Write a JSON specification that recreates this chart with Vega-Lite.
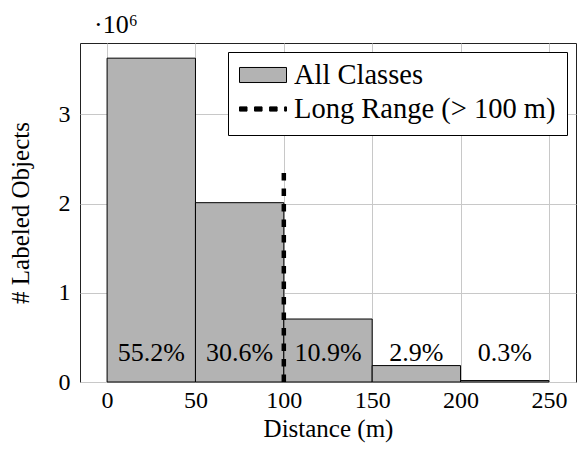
{
  "$schema": "https://vega.github.io/schema/vega-lite/v6.json",
  "width": 496,
  "height": 339,
  "autosize": "none",
  "padding": {"left": 80, "top": 43, "right": 3, "bottom": 69},
  "config": {
    "font": "Liberation Serif",
    "view": {"stroke": "#222222", "strokeWidth": 1},
    "axis": {
      "labelFont": "Liberation Serif",
      "titleFont": "Liberation Serif",
      "labelFontSize": 24,
      "titleFontSize": 25,
      "titleFontWeight": "normal",
      "labelColor": "black",
      "titleColor": "black",
      "domain": false,
      "ticks": false,
      "grid": true,
      "gridColor": "#c8c8c8",
      "gridWidth": 1
    },
    "legend": {
      "orient": "top-right",
      "offset": 9,
      "strokeColor": "black",
      "fillColor": "white",
      "padding": 11,
      "labelFont": "Liberation Serif",
      "labelFontSize": 28.5,
      "labelColor": "black",
      "labelOffset": 7,
      "labelLimit": 400,
      "symbolSize": 2209,
      "symbolOpacity": 1,
      "symbolStrokeColor": "black",
      "symbolStrokeWidth": 1,
      "clipHeight": 24,
      "rowPadding": 5
    }
  },
  "layer": [
    {
      "data": {
        "values": [
          {"start": 0, "end": 50, "count": 3630000},
          {"start": 50, "end": 100, "count": 2010000},
          {"start": 100, "end": 150, "count": 706000},
          {"start": 150, "end": 200, "count": 184000},
          {"start": 200, "end": 250, "count": 16000}
        ]
      },
      "mark": {"type": "bar", "fill": "#b3b3b3", "stroke": "black", "strokeWidth": 1, "opacity": 1, "orient": "vertical"},
      "encoding": {
        "x": {
          "field": "start",
          "type": "quantitative",
          "scale": {"domain": [-12.5, 262.5], "nice": false, "zero": false},
          "axis": {"values": [0, 50, 100, 150, 200, 250], "title": "Distance (m)", "labelPadding": 6, "titlePadding": 4}
        },
        "x2": {"field": "end"},
        "y": {
          "field": "count",
          "type": "quantitative",
          "scale": {"domain": [0, 3800000], "nice": false},
          "axis": {"values": [0, 1000000, 2000000, 3000000], "labelExpr": "datum.value / 1000000", "title": "# Labeled Objects", "labelPadding": 10, "titlePadding": 25}
        },
        "y2": {"datum": 0}
      }
    },
    {
      "data": {"values": [{"dist": 100, "low": 0, "high": 2400000}]},
      "mark": {"type": "rule", "stroke": "black", "strokeWidth": 4.5, "strokeDash": [7.5, 8]},
      "encoding": {
        "x": {"field": "dist", "type": "quantitative"},
        "y": {"field": "low", "type": "quantitative"},
        "y2": {"field": "high"}
      }
    },
    {
      "data": {
        "values": [
          {"start": 0, "end": 50, "pct": "55.2%"},
          {"start": 50, "end": 100, "pct": "30.6%"},
          {"start": 100, "end": 150, "pct": "10.9%"},
          {"start": 150, "end": 200, "pct": "2.9%"},
          {"start": 200, "end": 250, "pct": "0.3%"}
        ]
      },
      "transform": [{"calculate": "(datum.start + datum.end) / 2", "as": "mid"}],
      "mark": {"type": "text", "fontSize": 26, "font": "Liberation Serif", "color": "black", "baseline": "middle", "align": "center"},
      "encoding": {
        "x": {"field": "mid", "type": "quantitative"},
        "y": {"datum": 330000},
        "text": {"field": "pct"}
      }
    },
    {
      "data": {"values": [{"note": "·10⁶"}]},
      "mark": {"type": "text", "fontSize": 26, "font": "Liberation Serif", "color": "black", "baseline": "alphabetic", "align": "left", "dx": 9, "dy": -10},
      "encoding": {
        "x": {"datum": -12.5},
        "y": {"datum": 3800000},
        "text": {"field": "note"}
      }
    },
    {
      "data": {"values": [{"series": "All Classes"}, {"series": "Long Range (> 100 m)"}]},
      "mark": {"type": "point", "filled": true, "opacity": 0, "strokeWidth": 1},
      "encoding": {
        "color": {
          "field": "series",
          "type": "nominal",
          "scale": {"domain": ["All Classes", "Long Range (> 100 m)"], "range": ["#b3b3b3", "black"]},
          "legend": {"title": null}
        },
        "stroke": {
          "field": "series",
          "type": "nominal",
          "scale": {"domain": ["All Classes", "Long Range (> 100 m)"], "range": ["black", "black"]},
          "legend": {"title": null}
        },
        "shape": {
          "field": "series",
          "type": "nominal",
          "scale": {
            "domain": ["All Classes", "Long Range (> 100 m)"],
            "range": [
              "M-1,-0.32H1V0.32H-1Z",
              "M-1,-0.09H-0.68V0.09H-1Z M-0.36,-0.09H-0.04V0.09H-0.36Z M0.28,-0.09H0.6V0.09H0.28Z M0.92,-0.09H1V0.09H0.92Z"
            ]
          },
          "legend": {"title": null}
        }
      }
    }
  ]
}
